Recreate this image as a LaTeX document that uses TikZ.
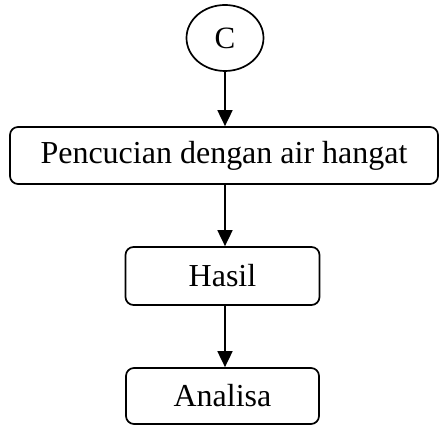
\documentclass[tikz,border=0pt]{standalone}
\usepackage{fontspec}
\setmainfont{Liberation Serif}
\usetikzlibrary{arrows.meta,shapes.geometric}
\begin{document}
\begin{tikzpicture}[x=1pt,y=1pt,
  boxnode/.style={draw, line width=1.7pt, rounded corners=8pt, inner sep=0pt, font=\fontsize{32}{36}\selectfont},
  circnode/.style={draw, ellipse, line width=1.7pt, inner sep=0pt, minimum width=77pt, minimum height=66pt, font=\fontsize{31}{34}\selectfont},
  arr/.style={line width=1.8pt, -{Triangle[width=15pt,length=16pt]}}]
\useasboundingbox (0,0) rectangle (440,425);
\node[circnode] (c) at (225,387) {C};
\node[boxnode, minimum width=428pt, minimum height=57pt] (b1) at (224,269.5) {Pencucian dengan air hangat};
\node[boxnode, minimum width=194pt, minimum height=58pt] (b2) at (222.5,149) {Hasil};
\node[boxnode, minimum width=193pt, minimum height=56pt] (b3) at (222.5,29) {Analisa};
\draw[arr] (c.south) -- (c.south |- b1.north);
\draw[arr] (c.south |- b1.south) -- (c.south |- b2.north);
\draw[arr] (c.south |- b2.south) -- (c.south |- b3.north);
\end{tikzpicture}
\end{document}
